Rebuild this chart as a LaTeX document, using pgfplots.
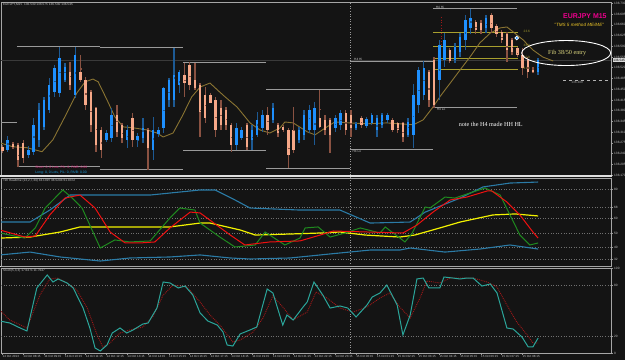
\documentclass[border=0pt]{standalone}
\usepackage{pgfplots}
\pgfplotsset{compat=1.18}
\usepackage{pgfplotstable}
\usepackage{fontspec}
\setmainfont{Liberation Sans}
\newfontfamily\seriffont{Liberation Serif}

\definecolor{bg}{HTML}{141414}
\definecolor{bull}{HTML}{1E90FF}
\definecolor{bear}{HTML}{F6A888}
\definecolor{bullw}{HTML}{1D5A94}
\definecolor{bearw}{HTML}{8A5242}
\definecolor{ma}{HTML}{8A7432}
\definecolor{hline}{HTML}{9A9A9A}
\definecolor{fib}{HTML}{A89F2E}
\definecolor{band}{HTML}{2B7BA6}
\definecolor{tdiy}{HTML}{F2F200}
\definecolor{tdir}{HTML}{F01010}
\definecolor{tdig}{HTML}{1F8A1F}
\definecolor{stm}{HTML}{2BA59A}
\definecolor{sts}{HTML}{A01818}
\definecolor{lbl}{HTML}{C8C8C8}
\definecolor{pinkt}{HTML}{E0207A}
\definecolor{cyant}{HTML}{1AA0E0}
\definecolor{bidc}{HTML}{3A3A3A}
\definecolor{gridc}{HTML}{707070}
\definecolor{sepc}{HTML}{9A9A9A}

\tikzset{tinytext/.style={font=\fontsize{3.2}{3.6}\selectfont, inner sep=0pt}}

\pgfplotsset{
  panel/.style={scale only axis, width=610bp, xmin=-0.288, xmax=117.02,
    axis line style={draw=gray!70, line width=0.6bp},
    xtick=\empty, ytick pos=right, yticklabel pos=right, tick align=outside,
    major tick length=2bp, tick style={draw=gray!80, line width=0.5bp},
    yticklabel style={font=\fontsize{3.2}{3.6}\selectfont, text=lbl, inner sep=1bp},
    /pgf/number format/assume math mode=true},
  wick/.style={only marks, mark=square*, mark size=0.3bp, color=#1, error bars/.cd, y dir=both, y explicit, error mark=none, error bar style={line width=1.4bp, draw=#1}},
  body/.style={only marks, mark=square*, mark size=0.3bp, color=#1, error bars/.cd, y dir=both, y explicit, error mark=none, error bar style={line width=2.4bp, draw=#1}}
}

% bullish candles: index, open, high, low, close
\pgfplotstableread{
i O H L C
1 136.252 136.298 136.246 136.285
5 136.236 136.265 136.226 136.252
6 136.246 136.356 136.236 136.334
7 136.285 136.405 136.262 136.382
8 136.327 136.425 136.317 136.415
9 136.382 136.487 136.373 136.464
10 136.441 136.529 136.425 136.519
11 136.438 136.588 136.425 136.552
12 136.480 136.536 136.474 136.523
14 136.431 136.588 136.422 136.562
20 136.285 136.317 136.278 136.307
21 136.291 136.389 136.278 136.366
24 136.285 136.334 136.259 136.317
26 136.285 136.307 136.262 136.298
27 136.291 136.356 136.275 136.324
29 136.252 136.360 136.219 136.317
30 136.304 136.327 136.294 136.317
31 136.324 136.457 136.307 136.454
32 136.415 136.487 136.392 136.480
33 136.415 136.585 136.392 136.496
34 136.464 136.513 136.438 136.506
45 136.268 136.340 136.252 136.324
46 136.291 136.327 136.285 136.317
48 136.285 136.334 136.252 136.317
49 136.301 136.376 136.294 136.350
50 136.324 136.382 136.311 136.366
52 136.350 136.405 136.340 136.389
57 136.285 136.327 136.275 136.317
58 136.301 136.382 136.285 136.366
59 136.317 136.399 136.307 136.382
60 136.317 136.408 136.268 136.389
64 136.324 136.366 136.311 136.356
65 136.334 136.382 136.317 136.373
68 136.324 136.343 136.317 136.337
70 136.330 136.360 136.324 136.353
71 136.340 136.373 136.334 136.366
72 136.317 136.366 136.294 136.356
73 136.334 136.373 136.324 136.366
74 136.350 136.373 136.340 136.366
78 136.301 136.356 136.294 136.343
79 136.301 136.470 136.259 136.431
80 136.399 136.523 136.373 136.513
81 136.431 136.542 136.415 136.519
84 136.480 136.611 136.415 136.594
85 136.545 136.633 136.523 136.611
87 136.545 136.601 136.536 136.588
88 136.571 136.633 136.555 136.620
89 136.611 136.692 136.578 136.676
90 136.650 136.712 136.633 136.682
93 136.650 136.692 136.633 136.682
103 136.506 136.552 136.496 136.545
}\bulltab

% bearish candles: index, open, high, low, close
\pgfplotstableread{
i O H L C
0 136.262 136.268 136.242 136.249
2 136.272 136.278 136.255 136.262
3 136.268 136.275 136.197 136.219
4 136.275 136.285 136.210 136.226
13 136.506 136.539 136.448 136.464
15 136.506 136.562 136.474 136.480
16 136.480 136.490 136.382 136.399
17 136.441 136.448 136.311 136.334
18 136.389 136.392 136.246 136.268
19 136.317 136.327 136.226 136.252
22 136.366 136.399 136.294 136.311
23 136.334 136.340 136.275 136.291
25 136.356 136.373 136.262 136.285
28 136.317 136.324 136.187 136.259
35 136.496 136.536 136.425 136.470
36 136.529 136.539 136.448 136.464
37 136.480 136.536 136.448 136.454
38 136.464 136.470 136.294 136.376
39 136.431 136.457 136.340 136.356
40 136.431 136.438 136.405 136.408
41 136.415 136.425 136.294 136.317
42 136.389 136.415 136.317 136.334
43 136.382 136.392 136.317 136.334
44 136.334 136.340 136.246 136.268
47 136.334 136.340 136.252 136.262
51 136.366 136.392 136.301 136.317
53 136.334 136.340 136.294 136.307
54 136.327 136.334 136.311 136.317
55 136.317 136.324 136.193 136.236
56 136.317 136.392 136.242 136.252
61 136.356 136.448 136.324 136.327
62 136.350 136.366 136.301 136.317
63 136.350 136.356 136.242 136.301
66 136.373 136.382 136.301 136.317
67 136.366 136.382 136.294 136.324
69 136.356 136.363 136.324 136.334
75 136.350 136.356 136.311 136.317
76 136.340 136.343 136.307 136.317
77 136.340 136.343 136.278 136.294
82 136.506 136.513 136.392 136.415
83 136.545 136.555 136.389 136.399
86 136.578 136.585 136.536 136.545
91 136.669 136.676 136.633 136.643
92 136.666 136.676 136.633 136.643
94 136.692 136.699 136.633 136.650
95 136.656 136.663 136.620 136.630
96 136.637 136.643 136.601 136.611
97 136.630 136.637 136.539 136.578
98 136.611 136.617 136.562 136.571
99 136.585 136.588 136.555 136.562
100 136.562 136.585 136.496 136.519
101 136.545 136.555 136.487 136.506
102 136.519 136.523 136.503 136.506
}\beartab

\begin{document}
\begin{tikzpicture}
\useasboundingbox (0,0) rectangle (625bp,360bp);
\fill[bg] (0,0) rectangle (625bp,360bp);

% ---------------- price panel ----------------
\begin{axis}[panel, at={(1bp,185bp)}, anchor=south west, height=173bp,
  ymin=136.170, ymax=136.7345,
  ytick={136.170,136.205,136.240,136.275,136.310,136.345,136.380,136.415,136.450,136.485,136.520,136.555,136.590,136.625,136.660,136.695,136.730},
  /pgf/number format/fixed, /pgf/number format/fixed zerofill, /pgf/number format/precision=3, /pgf/number format/1000 sep={}]
% bid line
\addplot[bidc, line width=0.5bp] coordinates {(-0.3,136.545)(117.02,136.545)};
% day separator
\addplot[sepc, dotted, line width=0.6bp] coordinates {(66.9,136.170)(66.9,136.735)};
% H4 high / low segments
\addplot[hline, line width=0.8bp] coordinates {(-0.3,136.340)(2.75,136.340)};
\addplot[hline, line width=0.8bp] coordinates {(2.75,136.591)(18.75,136.591)};
\addplot[hline, line width=0.8bp] coordinates {(2.75,136.197)(18.75,136.197)};
\addplot[hline, line width=0.8bp] coordinates {(18.75,136.585)(34.75,136.585)};
\addplot[hline, line width=0.8bp] coordinates {(18.75,136.187)(34.75,136.187)};
\addplot[hline, line width=0.8bp] coordinates {(34.75,136.539)(50.75,136.539)};
\addplot[hline, line width=0.8bp] coordinates {(34.75,136.249)(50.75,136.249)};
\addplot[hline, line width=0.8bp] coordinates {(50.75,136.448)(66.75,136.448)};
\addplot[hline, line width=0.8bp] coordinates {(50.75,136.190)(66.75,136.190)};
\addplot[hline, line width=0.8bp] coordinates {(66.75,136.542)(82.75,136.542)};
\addplot[hline, line width=0.8bp] coordinates {(66.75,136.255)(82.75,136.255)};
\addplot[hline, line width=0.8bp] coordinates {(82.75,136.712)(98.9,136.712)};
\addplot[hline, line width=0.8bp] coordinates {(82.75,136.392)(98.9,136.392)};
% fib levels
\addplot[fib, line width=0.8bp] coordinates {(82.8,136.636)(99.1,136.636)};
\addplot[fib, line width=0.8bp] coordinates {(82.8,136.590)(99.1,136.590)};
\addplot[fib, line width=0.8bp] coordinates {(82.8,136.552)(99.1,136.552)};
\addplot[fib, line width=0.8bp] coordinates {(82.8,136.514)(99.1,136.514)};
% pending line
\addplot[gray!60, dashed, line width=0.5bp] coordinates {(107.8,136.480)(117.02,136.480)};
% red dotted marker line
\addplot[sts, dotted, line width=0.7bp] coordinates {(84.4,136.686)(84.4,136.594)};
% moving average
\addplot[ma, line width=0.9bp] coordinates {(-0.5,136.275)(2.0,136.262)(4.7,136.259)(7.6,136.246)(9.7,136.285)(12.4,136.373)(14.3,136.438)(15.9,136.474)(17.4,136.483)(18.4,136.474)(20.1,136.415)(21.6,136.360)(23.2,136.327)(25.1,136.324)(27.8,136.317)(29.7,136.307)(30.9,136.294)(32.8,136.307)(34.5,136.360)(36.4,136.425)(38.0,136.457)(39.9,136.470)(41.3,136.448)(42.8,136.425)(45.1,136.392)(47.6,136.340)(49.5,136.317)(51.4,136.307)(53.4,136.324)(54.3,136.343)(55.9,136.340)(58.6,136.311)(60.1,136.301)(62.4,136.327)(63.9,136.343)(66.8,136.340)(70.1,136.337)(73.9,136.340)(76.4,136.337)(79.0,136.334)(80.9,136.350)(82.8,136.392)(84.1,136.425)(86.1,136.470)(88.0,136.513)(89.9,136.555)(91.8,136.601)(93.8,136.633)(95.7,136.650)(97.0,136.653)(98.2,136.637)(100.1,136.611)(102.0,136.578)(103.9,136.555)(105.9,136.542)};
% candles: wicks (high-low) and bodies (open-close)
\addplot[wick=bullw] table[x=i, y expr={(\thisrow{H}+\thisrow{L})/2}, y error expr={(\thisrow{H}-\thisrow{L})/2}] {\bulltab};
\addplot[wick=bearw] table[x=i, y expr={(\thisrow{H}+\thisrow{L})/2}, y error expr={(\thisrow{H}-\thisrow{L})/2}] {\beartab};
\addplot[body=bull] table[x=i, y expr={(\thisrow{O}+\thisrow{C})/2}, y error expr={(\thisrow{C}-\thisrow{O})/2}] {\bulltab};
\addplot[body=bear] table[x=i, y expr={(\thisrow{O}+\thisrow{C})/2}, y error expr={(\thisrow{O}-\thisrow{C})/2}] {\beartab};
% marker
\addplot[only marks, mark=*, mark size=1.8bp, mark options={fill=bull, draw=white, line width=0.7bp}] coordinates {(98.9,136.617)};

\coordinate (bid) at (axis cs:117.02,136.545);
% texts
\node[tinytext, text=lbl, anchor=north west] at (rel axis cs:0.003,0.993) {EURJPY,M15\ \ 136.530 136.575 136.530 136.545};
\node[font=\fontsize{3.4}{4}\selectfont, inner sep=0pt, text=pinkt, anchor=west] at (rel axis cs:0.056,0.046) {Short: 0, 0 Lots, P/L: 0, PA/B: 0.00};
\node[font=\fontsize{3.4}{4}\selectfont, inner sep=0pt, text=cyant, anchor=west] at (rel axis cs:0.056,0.014) {Long: 0, 0 Lots, P/L: 0, PA/B: 0.00};
\node[tinytext, text=lbl, anchor=south west] at (axis cs:67.6,136.543) {H4 Hi};
\node[tinytext, text=lbl, anchor=north west] at (axis cs:67.3,136.250) {H4 Lo};
\node[tinytext, text=lbl, anchor=south west] at (axis cs:83.3,136.713) {H4 Hi};
\node[tinytext, text=lbl, anchor=north west] at (axis cs:83.5,136.387) {H4 Lo};
\node[tinytext, text=fib, anchor=south west] at (axis cs:100.2,136.634) {23.6};
\node[tinytext, text=fib, anchor=south west] at (axis cs:100.2,136.588) {38.2};
\node[tinytext, text=fib, anchor=south west] at (axis cs:100.2,136.550) {50.0};
\node[tinytext, text=fib, anchor=south west] at (axis cs:100.2,136.512) {61.8};
\node[tinytext, text=gray!70, anchor=north] at (axis cs:110.5,136.476) {136.480};
\draw[white, line width=0.9bp] (axis cs:108.4,136.568) ellipse [x radius=44.5bp, y radius=12.5bp];
\node[font=\seriffont\fontsize{6.2}{7}\selectfont, text={rgb,255:red,226;green,220;blue,130}, inner sep=0pt] at (axis cs:108.6,136.567) {Fib 38/50 entry};
\node[font=\bfseries\fontsize{7}{8}\selectfont, text=magenta, inner sep=0pt] at (axis cs:112.0,136.687) {EURJPY M15};
\node[font=\itshape\fontsize{4.6}{5}\selectfont, text={rgb,255:red,240;green,200;blue,40}, inner sep=0pt] at (axis cs:110.9,136.660) {"TMS 5 method ME/ME"};
\node[font=\seriffont\fontsize{6.2}{7}\selectfont, text=white, inner sep=0pt] at (axis cs:93.9,136.334) {note the H4 made HH HL};
\end{axis}
\node[fill=white!85!black, text=black, font=\fontsize{3.2}{3.6}\selectfont, inner sep=0.6bp, anchor=west] at ([xshift=1.5bp]bid) {136.545};

% separators
\draw[white!88!black, line width=1.3bp] (0,184bp) -- (612bp,184bp);
\draw[white!88!black, line width=1.3bp] (0,93.3bp) -- (612bp,93.3bp);

% ---------------- TDI panel ----------------
\begin{axis}[panel, at={(1bp,94bp)}, anchor=south west, height=88bp,
  ymin=27.15, ymax=88.1, ytick={32,40,50,60,68,80}]
\addplot[gridc, dotted, line width=0.6bp] coordinates {(-0.3,32)(117.02,32)};
\addplot[gridc, dotted, line width=0.6bp] coordinates {(-0.3,40)(117.02,40)};
\addplot[gridc, dotted, line width=0.6bp] coordinates {(-0.3,50)(117.02,50)};
\addplot[gridc, dotted, line width=0.6bp] coordinates {(-0.3,60)(117.02,60)};
\addplot[gridc, dotted, line width=0.6bp] coordinates {(-0.3,68)(117.02,68)};
\addplot[gridc, dotted, line width=0.6bp] coordinates {(-0.3,80)(117.02,80)};
\addplot[sepc, dotted, line width=0.6bp] coordinates {(66.9,27)(66.9,89)};
\addplot[band, line width=1.1bp] coordinates {(-0.5,57.6)(5.3,57.6)(9.1,65.9)(13.0,76.3)(28.4,76.3)(38.0,79.8)(40.9,79.8)(44.7,72.9)(47.6,67.3)(57.2,65.9)(64.9,65.9)(70.7,56.9)(78.4,57.6)(81.3,64.5)(88.0,74.2)(92.4,81.9)(97.6,84.6)(103.0,85.3)};
\addplot[band, line width=1.1bp] coordinates {(-0.5,34.8)(5.3,36.8)(11.1,33.4)(18.8,30.6)(24.5,32.7)(32.2,33.4)(38.0,34.8)(43.8,32.7)(47.6,32.0)(55.3,32.7)(61.1,34.8)(63.0,35.5)(70.7,38.2)(76.4,38.2)(78.4,39.6)(85.1,36.8)(91.8,38.9)(97.6,41.7)(103.0,38.9)};
\addplot[tdiy, line width=1.2bp] coordinates {(-0.5,46.5)(5.3,47.2)(11.1,50.7)(14.9,54.2)(24.5,54.2)(32.2,54.2)(38.0,56.9)(39.9,56.9)(45.7,52.1)(48.6,48.6)(55.3,49.3)(61.1,50.0)(64.9,50.7)(69.7,48.6)(76.4,47.2)(79.3,48.6)(84.1,53.5)(88.0,57.6)(94.3,62.5)(98.6,63.2)(103.0,61.8)};
\addplot[tdig, line width=1.0bp] coordinates {(-0.5,50.0)(4.3,46.5)(6.3,53.5)(8.2,67.3)(11.6,79.8)(13.4,74.2)(15.3,67.3)(18.8,39.6)(21.6,45.2)(24.5,43.8)(28.4,44.5)(32.2,60.4)(34.1,67.3)(37.0,65.9)(38.0,56.9)(41.8,47.2)(44.7,40.3)(48.6,41.7)(50.5,50.7)(54.3,41.7)(57.2,46.5)(58.2,53.5)(60.7,54.2)(63.0,47.2)(65.9,50.0)(68.8,53.5)(72.6,50.0)(73.6,54.2)(77.4,43.8)(78.8,50.0)(81.3,68.0)(82.2,67.3)(85.1,74.9)(87.0,74.2)(89.9,77.7)(92.8,81.2)(95.7,76.3)(97.6,62.5)(99.5,48.6)(101.4,41.7)(103.0,43.1)};
\addplot[tdir, line width=1.0bp] coordinates {(-0.5,52.1)(4.3,47.2)(6.3,47.9)(9.1,62.5)(12.0,74.2)(14.9,76.3)(17.8,67.3)(20.7,50.7)(23.6,43.1)(26.4,43.1)(29.3,43.8)(32.2,53.5)(36.1,64.5)(38.0,63.9)(43.8,48.6)(46.6,41.7)(51.4,43.8)(57.2,44.5)(61.1,48.6)(63.6,51.4)(70.1,50.7)(77.0,50.0)(79.7,55.5)(82.8,64.5)(86.1,72.9)(89.3,74.9)(93.2,79.1)(94.1,79.1)(97.0,71.5)(99.5,62.5)(102.0,50.7)(103.0,46.5)};
\node[tinytext, text=lbl, anchor=north west] at (rel axis cs:0.003,0.99) {TDI Realtime (13,2,7,34) 43.1097 46.5204 61.8372};
\end{axis}

% ---------------- Stochastic panel ----------------
\begin{axis}[panel, at={(1bp,7bp)}, anchor=south west, height=85bp,
  ymin=0, ymax=100, ytick={0,20,80,100},
  xtick={0,4,...,100}, xtick pos=bottom, xticklabel pos=bottom,
  xticklabels={14 Oct 2013,14 Oct 08:15,14 Oct 09:15,14 Oct 10:15,14 Oct 11:15,14 Oct 12:15,14 Oct 13:15,14 Oct 14:15,14 Oct 15:15,14 Oct 16:15,14 Oct 17:15,14 Oct 18:15,14 Oct 19:15,14 Oct 20:15,14 Oct 21:15,14 Oct 22:15,14 Oct 23:15,15 Oct 00:15,15 Oct 01:15,15 Oct 02:15,15 Oct 03:15,15 Oct 04:15,15 Oct 05:15,15 Oct 06:15,15 Oct 07:15,15 Oct 08:15},
  xticklabel style={anchor=north west, font=\fontsize{3}{3.4}\selectfont, text=lbl, inner sep=0.6bp, xshift=-0.6bp}]
\addplot[gridc, dotted, line width=0.6bp] coordinates {(-0.3,20)(117.02,20)};
\addplot[gridc, dotted, line width=0.6bp] coordinates {(-0.3,80)(117.02,80)};
\addplot[sepc, dotted, line width=0.6bp] coordinates {(66.9,0)(66.9,100)};
\addplot[sts, densely dotted, line width=0.9bp] coordinates {(-0.5,50.6)(1.4,38.8)(4.7,29.4)(7.2,68.2)(9.1,87.1)(10.5,88.2)(12.4,82.4)(14.3,74.1)(16.3,52.9)(18.2,21.2)(19.3,7.1)(20.7,11.8)(22.6,23.5)(24.5,27.1)(27.0,30.6)(28.9,42.4)(30.9,68.2)(32.8,80.0)(35.5,77.6)(38.0,60.0)(39.9,44.7)(41.8,32.9)(44.3,12.9)(45.7,15.3)(48.2,24.7)(50.1,41.2)(52.0,67.1)(53.9,54.1)(55.9,38.8)(58.6,48.2)(60.3,71.8)(62.4,64.7)(64.9,52.9)(67.4,48.2)(70.1,54.1)(72.6,64.7)(74.5,70.6)(76.4,54.1)(78.4,41.2)(80.3,64.7)(81.6,84.7)(84.1,82.4)(86.1,88.2)(88.0,88.2)(90.5,88.2)(93.2,83.5)(95.1,77.6)(97.0,56.5)(98.9,36.5)(100.9,21.2)(102.0,11.8)(103.0,11.8)};
\addplot[stm, line width=1.0bp] coordinates {(-0.5,37.6)(1.4,35.3)(3.4,29.4)(4.7,25.9)(6.6,76.5)(8.6,91.8)(9.7,83.5)(10.7,87.1)(12.4,82.4)(13.6,76.5)(15.5,52.9)(16.8,29.4)(17.8,5.9)(18.8,2.4)(20.1,9.4)(21.1,23.5)(22.6,29.4)(23.9,23.5)(25.1,27.1)(27.0,34.1)(28.0,35.3)(29.7,52.9)(30.9,83.5)(32.2,82.4)(33.8,76.5)(35.1,78.8)(36.6,68.2)(38.0,47.1)(39.5,37.6)(41.3,32.9)(42.4,24.7)(43.2,9.4)(44.3,8.2)(45.7,22.4)(47.6,27.1)(48.9,30.6)(50.9,75.3)(52.0,70.6)(53.9,32.9)(54.7,44.7)(55.9,38.8)(57.8,54.1)(58.6,60.0)(59.9,83.5)(61.6,68.2)(63.0,52.9)(64.9,55.3)(66.4,52.9)(68.0,42.4)(70.1,56.5)(71.1,65.9)(72.6,70.6)(73.9,80.0)(75.9,56.5)(77.0,21.2)(78.4,44.7)(79.7,87.1)(80.9,88.2)(82.0,76.5)(84.1,76.5)(84.9,89.4)(86.6,88.2)(88.0,87.1)(89.3,88.2)(90.5,88.2)(92.2,78.8)(93.8,81.2)(95.1,70.6)(97.0,29.4)(98.2,28.2)(99.9,18.8)(101.1,7.1)(102.0,7.1)(103.0,17.6)};
\node[tinytext, text=lbl, anchor=north west] at (rel axis cs:0.003,0.99) {Stoch(5,3,3) 17.6471 11.7647};
\end{axis}
\end{tikzpicture}
\end{document}
